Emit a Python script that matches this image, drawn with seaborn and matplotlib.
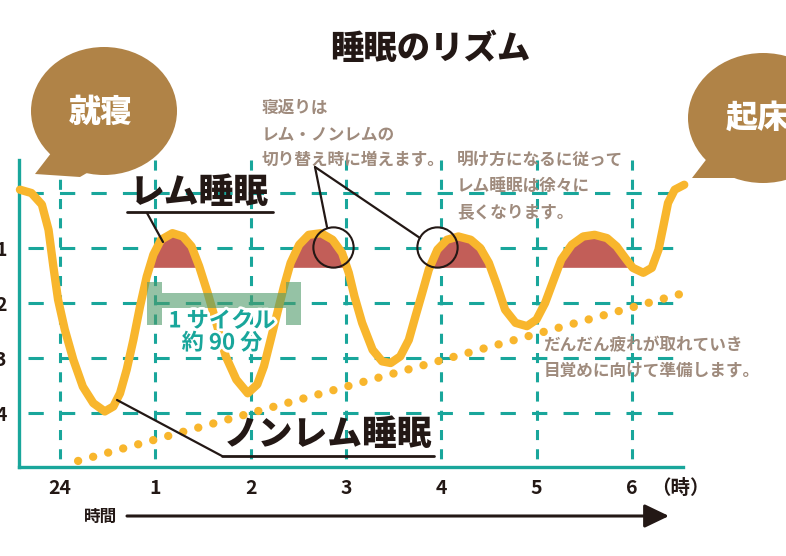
import matplotlib
matplotlib.use('Agg')
import numpy as np
import matplotlib.pyplot as plt
import matplotlib.patheffects as pe
from matplotlib.patches import Ellipse, Polygon
import seaborn as sns

# sleep depth curve (hours after 24:00, stage 0 = awake)
hours = [-0.42, -0.30, -0.19, -0.12, -0.07, -0.02, 0.05, 0.14, 0.24, 0.35, 0.47, 0.56,
         0.63, 0.70, 0.77, 0.84, 0.91, 0.98, 1.06, 1.18, 1.29, 1.38, 1.46, 1.55, 1.64,
         1.74, 1.85, 1.97, 2.07, 2.14, 2.21, 2.28, 2.35, 2.42, 2.51, 2.61, 2.74, 2.86,
         2.96, 3.03, 3.09, 3.17, 3.28, 3.38, 3.47, 3.57, 3.66, 3.73, 3.80, 3.87, 3.96,
         4.06, 4.18, 4.31, 4.41, 4.50, 4.59, 4.67, 4.78, 4.90, 5.00, 5.09, 5.18, 5.26,
         5.37, 5.49, 5.61, 5.74, 5.84, 5.93, 6.01, 6.12, 6.21, 6.28, 6.33, 6.38, 6.45,
         6.55]
stage = [-0.06, 0.00, 0.21, 0.67, 1.33, 1.94, 2.48, 3.03, 3.52, 3.82, 3.97, 3.88,
         3.64, 3.21, 2.67, 2.06, 1.52, 1.12, 0.85, 0.73, 0.79, 0.97, 1.33, 1.82, 2.36,
         2.97, 3.39, 3.64, 3.48, 3.15, 2.67, 2.18, 1.70, 1.27, 0.94, 0.76, 0.73, 0.85,
         1.09, 1.45, 1.88, 2.36, 2.85, 3.06, 3.09, 2.97, 2.67, 2.24, 1.82, 1.39, 1.03,
         0.85, 0.79, 0.85, 1.00, 1.27, 1.70, 2.12, 2.36, 2.42, 2.30, 2.00, 1.58, 1.21,
         0.94, 0.79, 0.76, 0.82, 0.97, 1.18, 1.36, 1.45, 1.36, 1.03, 0.61, 0.18, -0.06,
         -0.15]

hour_ticks = [0, 1, 2, 3, 4, 5, 6]
hour_labels = ['24', '1', '2', '3', '4', '5', '6']
stage_ticks = [1, 2, 3, 4]
stage_labels = ['1', '2', '3', '4']
grid_stages = [0, 1, 2, 3, 4]

# tiredness trend (dotted)
fatigue_hours = [0.19, 6.50]
fatigue_stage = [4.87, 1.84]

rem_level = 1.36            # REM shading floor
cycle_start, cycle_end = 0.99, 2.45
switch_hours = [2.86, 3.96]
switch_stage = [0.98, 0.98]

TEAL = '#19A69B'
ORANGE = '#F8B62D'
REM = '#C25E58'
INK = '#231815'
GRAY = '#9F8B7D'
BROWN = '#B08347'

sns.set_theme(style='white')
plt.rcParams['font.family'] = ['Noto Sans CJK JP', 'DejaVu Sans']

W, H = 786, 556
fig = plt.figure(figsize=(W / 100, H / 100), dpi=100)
fig.patch.set_facecolor('white')
ax = fig.add_axes([19 / W, (H - 467) / H, 664 / W, 307 / H])
ax.set_facecolor('none')

ax.set_xlim(-0.43, 6.537)
ax.set_ylim(4.98, -0.6)

# dashed grid
ax.hlines(grid_stages, -0.34, 6.537, colors=TEAL, linewidth=2.2,
          linestyles=[(0, (5.0, 5.3))], zorder=1)
ax.vlines(hour_ticks, -0.6, 4.98, colors=TEAL, linewidth=2.2,
          linestyles=[(0, (3.3, 3.0))], zorder=1)

for s in ['top', 'right']:
    ax.spines[s].set_visible(False)
for s in ['left', 'bottom']:
    ax.spines[s].set_color(TEAL)
    ax.spines[s].set_linewidth(2.4)

ax.set_xticks(hour_ticks)
ax.set_xticklabels(hour_labels, fontsize=14, fontweight='bold', color=INK)
ax.set_yticks(stage_ticks)
ax.set_yticklabels(stage_labels, fontsize=14, fontweight='bold', color=INK)
ax.tick_params(axis='x', length=0, pad=9)
ax.tick_params(axis='y', length=0, pad=9)
ax.set_xlabel('')
ax.set_ylabel('')

# tiredness dots
ax.plot(fatigue_hours, fatigue_stage, color=ORANGE, linewidth=6,
        linestyle=(0, (0.01, 1.86)), dash_capstyle='round', zorder=2, clip_on=False)

# REM shading
h = np.array(hours)
st = np.array(stage)
ax.fill_between(h, st, rem_level, where=(st < rem_level) & (h > 0.5) & (h < 6.2),
                interpolate=True, color=REM, linewidth=0, zorder=3)

sns.lineplot(x=hours, y=stage, ax=ax, color=ORANGE, linewidth=6, sort=False,
             estimator=None, zorder=4, clip_on=False,
             solid_capstyle='round', solid_joinstyle='round')

# 1 cycle bracket
w = 0.079
bt, bb = 1.82, 2.09
ct, cb = 1.62, 2.40
bracket = [(cycle_start - w, ct), (cycle_start + w, ct), (cycle_start + w, bt),
           (cycle_end - w, bt), (cycle_end - w, ct), (cycle_end + w, ct),
           (cycle_end + w, cb), (cycle_end - w, cb), (cycle_end - w, bb),
           (cycle_start + w, bb), (cycle_start + w, cb), (cycle_start - w, cb)]
ax.add_patch(Polygon(bracket, closed=True, facecolor='#4E9A6A', alpha=0.6,
                     edgecolor='none', zorder=5))

# switch circles
ax.plot(switch_hours, switch_stage, linestyle='none', marker='o', markersize=29,
        markerfacecolor='none', markeredgecolor=INK, markeredgewidth=1.5, zorder=6)

# overlay in pixel coordinates for the decorations
ov = fig.add_axes([0, 0, 1, 1])
ov.set_xlim(0, W)
ov.set_ylim(H, 0)
ov.axis('off')

ov.text(430, 48, '睡眠のリズム', fontsize=24, fontweight='heavy', color=INK,
        ha='center', va='center')

# bubbles
ov.add_patch(Ellipse((104, 111), 146, 128, color=BROWN, linewidth=0))
ov.add_patch(Polygon([(35, 174), (55, 148), (92, 170), (80, 177)], closed=True,
                     color=BROWN, linewidth=0))
ov.text(101, 112, '就寝', fontsize=23, fontweight='heavy', color='white',
        ha='center', va='center')
ov.add_patch(Ellipse((763, 118), 150, 130, color=BROWN, linewidth=0))
ov.add_patch(Polygon([(692, 178), (712, 152), (740, 178)], closed=True,
                     color=BROWN, linewidth=0))
ov.text(758, 118, '起床', fontsize=23, fontweight='heavy', color='white',
        ha='center', va='center')

# REM label
ov.text(199, 193, 'レム睡眠', fontsize=25, fontweight='heavy', color=INK,
        ha='center', va='center')
ov.plot([127, 273], [212, 212], color=INK, linewidth=2)
ov.plot([147, 163], [213, 242], color=INK, linewidth=1.6)

# non-REM label
ov.text(328, 434, 'ノンレム睡眠', fontsize=25, fontweight='heavy', color=INK,
        ha='center', va='center')
ov.plot([222, 434], [456, 456], color=INK, linewidth=2)
ov.plot([117, 222], [400, 456], color=INK, linewidth=1.6)

# notes
note_kw = dict(fontsize=12, fontweight='bold', color=GRAY, ha='left', va='center',
               linespacing=1.55)
ov.text(262, 134, '寝返りは\nレム・ノンレムの\n切り替え時に増えます。', **note_kw)
ov.plot([315, 327], [167, 227], color=INK, linewidth=1.6)
ov.plot([315, 420], [167, 238], color=INK, linewidth=1.6)
ov.text(457, 186, '明け方になるに従って\nレム睡眠は徐々に\n長くなります。', **note_kw)
ov.text(544, 358, 'だんだん疲れが取れていき\n目覚めに向けて準備します。', **note_kw)

cyc = ov.text(222, 332, '1 サイクル\n約 90 分', fontsize=16, fontweight='bold',
              color=TEAL, ha='center', va='center', linespacing=0.95)
cyc.set_path_effects([pe.withStroke(linewidth=4, foreground='white')])

# time axis
ov.text(680, 488, '（時）', fontsize=14, fontweight='bold', color=INK,
        ha='center', va='center')
ov.text(101, 517, '時間', fontsize=12, fontweight='bold', color=INK,
        ha='center', va='center')
ov.annotate('', xy=(669, 516), xytext=(127, 516),
            arrowprops=dict(arrowstyle='-|>,head_length=0.75,head_width=0.36',
                            mutation_scale=20, lw=2.2, color=INK,
                            shrinkA=0, shrinkB=0))

fig.savefig('out.png', dpi=100)
